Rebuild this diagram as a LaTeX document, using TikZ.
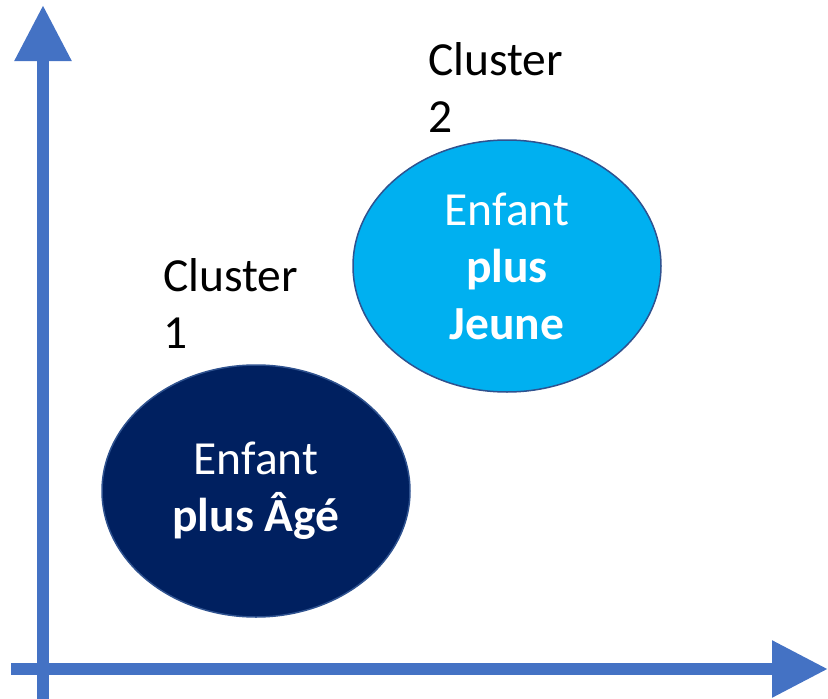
\documentclass[tikz,border=0pt]{standalone}
\usepackage{fontspec}
\setmainfont{Carlito}
\usetikzlibrary{shapes.geometric, arrows.meta}
\definecolor{asse}{HTML}{4472C4}
\definecolor{bordo}{HTML}{2F528F}
\definecolor{chiaro}{HTML}{00B0F0}
\definecolor{scuro}{HTML}{002060}
\newcommand{\testo}{\fontsize{47.5}{57}\selectfont}
\tikzset{
  asseFreccia/.style = {asse, line width = 12pt, -{Triangle[length=56pt, width=54pt]}},
  gruppo/.style = {ellipse, draw = bordo, line width = 1.5pt, minimum width = 308pt, minimum height = 252pt, inner sep = 0pt, text = white, align = center, font = \testo},
  etichetta/.style = {anchor = base west, align = left, inner sep = 0pt, font = \testo}
}
\begin{document}
\begin{tikzpicture}[x = 1pt, y = -1pt]
    \useasboundingbox (0,0) rectangle (828,699);
    \pgfmathsetmacro{\ox}{43}
    \pgfmathsetmacro{\oy}{669}
    % Assi
    \coordinate (basso) at (\ox,699);
    \coordinate (alto) at (\ox,5);
    \coordinate (sinistra) at (11,\oy);
    \coordinate (destra) at (828,\oy);
    \draw[asseFreccia] (basso) -- (alto);
    \draw[asseFreccia] (sinistra) -- (destra);
    % Gruppi
    \node[gruppo, fill = scuro] (eta) at (256,491) {Enfant\\ \textbf{plus Âgé}};
    \node[gruppo, fill = chiaro] (giovane) at (507,266) {Enfant\\ \textbf{plus}\\ \textbf{Jeune}};
    % Etichette (base = ultima riga)
    \node[etichetta] (cluster1) at (163,348) {Cluster\\ 1};
    \node[etichetta] (cluster2) at (428,132) {Cluster\\ 2};
\end{tikzpicture}
\end{document}
